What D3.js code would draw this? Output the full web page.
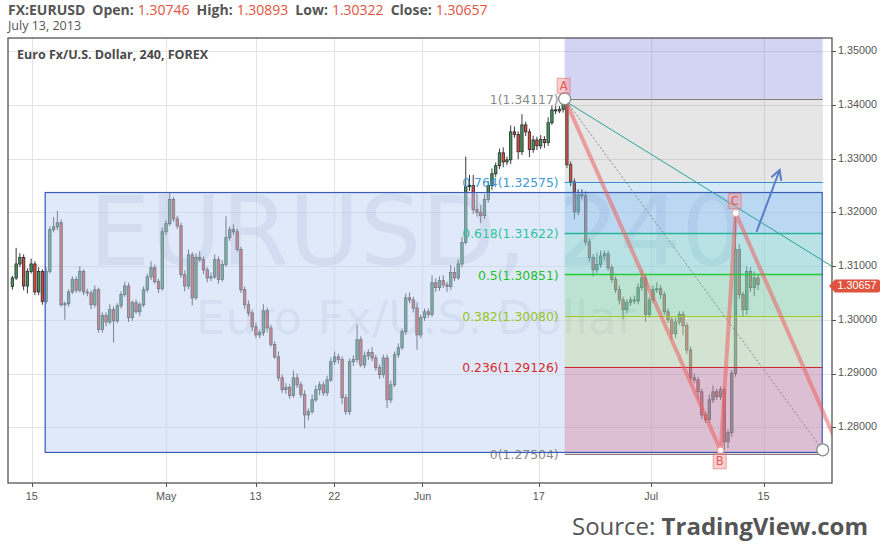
<!DOCTYPE html>
<html><head><meta charset="utf-8">
<script src="https://cdn.jsdelivr.net/npm/d3@7"></script>
<style>body{margin:0;background:#fff} svg{display:block}</style>
</head><body><svg id="c" width="883" height="554"></svg>
<script>
// ---------------- DATA ----------------
const symbol = "FX:EURUSD";
const headerDate = "July 13, 2013";
const chartTitle = "Euro Fx/U.S. Dollar, 240, FOREX";
const watermark1 = "EURUSD, 240";
const watermark2 = "Euro Fx/U.S. Dollar";
const ohlcLabels = ["Open:", "High:", "Low:", "Close:"];
const ohlcValues = ["1.30746", "1.30893", "1.30322", "1.30657"];
const lastPrice = 1.30657;

// bars: trading-day index of the first bar (0 = Apr 15), 3 bars per trading day
const startDay = -2;
const barsPerDay = 3;
const firstOpen = 1.3062;
const closes = [
 1.3078,1.3104,1.3116,1.3063,1.3090,1.3104,1.3052,1.3090,1.3034,1.3090,
 1.3168,1.3173,1.3181,1.3028,1.3030,1.3052,1.3075,1.3055,1.3090,1.3052,
 1.3050,1.3028,1.3056,1.2982,1.3008,1.2996,1.3019,1.2998,1.3026,1.3047,
 1.3063,1.3004,1.3032,1.3015,1.3028,1.3056,1.3080,1.3097,1.3071,1.3058,
 1.3164,1.3179,1.3224,1.3188,1.3175,1.3084,1.3063,1.3121,1.3041,1.3116,
 1.3112,1.3093,1.3078,1.3080,1.3112,1.3075,1.3103,1.3153,1.3168,1.3164,
 1.3131,1.3056,1.3028,1.3013,1.2987,1.2972,1.2976,1.3017,1.2985,1.2954,
 1.2931,1.2892,1.2870,1.2874,1.2859,1.2892,1.2879,1.2861,1.2823,1.2829,
 1.2851,1.2870,1.2879,1.2864,1.2888,1.2922,1.2931,1.2926,1.2855,1.2829,
 1.2922,1.2926,1.2963,1.2916,1.2933,1.2939,1.2929,1.2911,1.2898,1.2929,
 1.2851,1.2879,1.2935,1.2948,1.2978,1.3041,1.3037,1.3022,1.2972,1.3004,
 1.3015,1.3010,1.3069,1.3060,1.3073,1.3065,1.3062,1.3088,1.3078,1.3104,
 1.3144,1.3248,1.3250,1.3205,1.3200,1.3194,1.3224,1.3250,1.3272,1.3287,
 1.3311,1.3294,1.3298,1.3350,1.3345,1.3313,1.3363,1.3350,1.3317,1.3335,
 1.3324,1.3336,1.3330,1.3367,1.3391,1.3389,1.3392,1.3404,1.3289,1.3257,
 1.3201,1.3233,1.3231,1.3145,1.3116,1.3093,1.3103,1.3119,1.3123,1.3097,
 1.3075,1.3056,1.3037,1.3019,1.3032,1.3037,1.3035,1.3060,1.3078,1.3010,
 1.3037,1.3056,1.3058,1.3047,1.3015,1.3000,1.2974,1.2996,1.3010,1.2989,
 1.2944,1.2892,1.2888,1.2866,1.2823,1.2814,1.2851,1.2866,1.2857,1.2870,
 1.2773,1.2790,1.2900,1.3131,1.3047,1.3019,1.3090,1.3060,1.3078,1.30657
];
// wick lengths beyond the body, in pips
const wickUp = [
 4,30,8,6,6,10,5,8,4,8,   6,18,22,6,4,5,6,6,10,4,
 6,5,8,4,6,6,10,6,5,6,    8,6,4,6,5,6,6,12,6,5,
 8,6,14,5,6,6,8,10,5,8,   12,6,5,8,10,6,8,40,6,10,
 6,5,6,8,6,8,6,12,6,6,    6,10,6,8,6,14,8,6,8,6,
 10,8,6,6,8,8,10,6,6,6,   6,8,28,6,8,6,10,6,6,6,
 6,8,6,8,6,8,10,6,10,6,   6,6,14,8,8,10,6,14,10,8,
 10,56,20,20,30,14,10,8,10,6, 8,10,6,12,10,6,20,6,6,8,
 6,8,6,10,8,8,6,8,6,6,    6,10,10,8,6,6,22,10,6,6,
 6,6,8,6,6,6,8,8,14,6,    6,8,12,6,6,6,6,8,6,6,
 6,6,8,6,6,6,10,12,6,6,   4,6,6,68,10,6,10,8,12,8
];
const wickDown = [
 6,4,6,8,14,4,6,6,6,4,    4,5,6,4,28,6,4,5,4,6,
 6,8,5,6,6,8,4,40,4,5,    4,8,6,4,8,4,5,6,4,8,
 4,6,4,6,6,6,10,6,14,4,   4,8,8,6,4,8,4,4,6,6,
 4,6,8,6,8,6,6,6,8,4,     4,6,6,8,6,4,6,6,25,10,
 4,4,10,6,6,4,6,8,12,6,   6,8,6,4,6,8,6,6,8,6,
 15,6,4,6,4,6,6,8,28,6,   6,6,4,8,6,6,10,6,6,4,
 6,4,8,8,8,14,6,6,8,6,    6,10,6,8,6,14,6,8,14,6,
 8,6,10,6,4,6,4,6,6,8,    14,6,6,6,8,12,6,6,8,6,
 6,6,8,18,6,6,6,6,6,14,   6,6,6,8,6,6,10,8,6,18,
 8,6,6,14,8,6,6,6,6,6,    16,12,8,6,8,14,10,8,16,10
];

// axes
const priceTicks = [1.28, 1.29, 1.30, 1.31, 1.32, 1.33, 1.34, 1.35];
const dateTickDays = [-0.1, 11.85, 19.8, 26.8, 34.65, 45, 55, 65];
const dateTickLabels = ["15", "May", "13", "22", "Jun", "17", "Jul", "15"];

// fibonacci retracement (A -> lower-right anchor)
const fibRatios = ["1", "0.764", "0.618", "0.5", "0.382", "0.236", "0"];
const fibPrices = [1.34117, 1.32575, 1.31622, 1.30851, 1.30080, 1.29126, 1.27504];
const fibStartDay = 47.3;
const fibEndDay = 70.26;
const fibEndPrice = 1.2758;

// ABC pattern points (A, B, C, projected D)
const abcNames = ["A", "B", "C"];
const abcDays = [47.3, 61.18, 62.52, 71.2];
const abcPrices = [1.34117, 1.2757, 1.3199, 1.2785];

// rectangle (day range, price range)
const rectDays = [1.04, 70.17];
const rectPrices = [1.3238, 1.2754];

// trend line from A and arrow
const trendDays = [47.3, 71.06];
const trendPrices = [1.3408, 1.3100];
const arrowDays = [64.37, 66.43];
const arrowPrices = [1.3164, 1.3279];

// ---------------- STYLE ----------------
const upFill = "#3f9a5c", downFill = "#e2483a", candleStroke = "#2a2a2a", wickColor = "#3a3a3a";
const fibLineColors = ["#7f7f7f", "#3a8fc8", "#27b39b", "#22cc33", "#99cc22", "#cc2a2a", "#7f7f7f"];
const fibTextColors = ["#8a8a8a", "#3c98d6", "#2ec4a0", "#22c02a", "#96c41e", "#d42c2c", "#8a8a8a"];
const fibZoneFills = ["rgba(128,128,128,0.2)", "rgba(40,150,210,0.2)", "rgba(40,200,150,0.22)",
  "rgba(60,205,70,0.22)", "rgba(160,205,50,0.2)", "rgba(205,40,70,0.22)"];
const fibTopFill = "rgba(80,80,210,0.25)";

// ---------------- DRAW ----------------
const W = 883, H = 554;
const plot = {l: 8, r: 832, t: 38, b: 483};
const svg = d3.select("#c");
const x = d3.scaleLinear().domain([0, 65]).range([33.0, 763.6]);
const y = d3.scaleLinear().domain([1.27, 1.35]).range([480.93, 51.33]);

svg.append("rect").attr("width", W).attr("height", H).attr("fill", "#fff");
svg.append("defs").append("clipPath").attr("id", "clip")
  .append("rect").attr("x", plot.l).attr("y", plot.t)
  .attr("width", plot.r - plot.l).attr("height", plot.b - plot.t);

// grid
const grid = svg.append("g").attr("stroke", "#e4e4e4").attr("stroke-width", 1);
priceTicks.forEach(p => grid.append("line").attr("x1", plot.l).attr("x2", plot.r)
  .attr("y1", Math.round(y(p)) + 0.5).attr("y2", Math.round(y(p)) + 0.5));
dateTickDays.forEach(d => grid.append("line").attr("y1", plot.t).attr("y2", plot.b)
  .attr("x1", Math.round(x(d)) + 0.5).attr("x2", Math.round(x(d)) + 0.5));

const g = svg.append("g").attr("clip-path", "url(#clip)");

// watermark
g.append("text").attr("x", 416).attr("y", 265).attr("text-anchor", "middle")
  .attr("font-family", "DejaVu Sans").attr("font-size", 97)
  .attr("fill", "rgba(120,135,165,0.18)").text(watermark1);
g.append("text").attr("x", 416).attr("y", 334).attr("text-anchor", "middle")
  .attr("font-family", "DejaVu Sans").attr("font-size", 47)
  .attr("fill", "rgba(120,135,165,0.18)").text(watermark2);

// candles
const bars = closes.map((c, i) => {
  const o = i ? closes[i - 1] : firstOpen;
  return {d: startDay + (i + 0.5) / barsPerDay, o, c,
    hi: Math.max(o, c) + wickUp[i] * 1e-4, lo: Math.min(o, c) - wickDown[i] * 1e-4};
});
const cg = g.append("g");
cg.selectAll("line.w").data(bars).join("line").attr("class", "w")
  .attr("x1", b => x(b.d)).attr("x2", b => x(b.d))
  .attr("y1", b => y(b.hi)).attr("y2", b => y(b.lo))
  .attr("stroke", wickColor).attr("stroke-width", 1);
cg.selectAll("rect.b").data(bars).join("rect").attr("class", "b")
  .attr("x", b => x(b.d) - 1.2).attr("width", 2.4)
  .attr("y", b => y(Math.max(b.o, b.c)))
  .attr("height", b => Math.max(1, y(Math.min(b.o, b.c)) - y(Math.max(b.o, b.c))))
  .attr("fill", b => b.c >= b.o ? upFill : downFill)
  .attr("stroke", candleStroke).attr("stroke-width", 0.8);

// blue rectangle fill
g.append("rect").attr("x", x(rectDays[0])).attr("y", y(rectPrices[0]))
  .attr("width", x(rectDays[1]) - x(rectDays[0]))
  .attr("height", y(rectPrices[1]) - y(rectPrices[0]))
  .attr("fill", "rgba(190,208,245,0.48)");

// fib zones
const fx0 = x(fibStartDay), fx1 = x(fibEndDay);
g.append("rect").attr("x", fx0).attr("width", fx1 - fx0)
  .attr("y", plot.t - 5).attr("height", y(fibPrices[0]) - plot.t + 5).attr("fill", fibTopFill);
for (let k = 0; k < fibPrices.length - 1; k++) {
  g.append("rect").attr("x", fx0).attr("width", fx1 - fx0)
    .attr("y", y(fibPrices[k])).attr("height", y(fibPrices[k + 1]) - y(fibPrices[k]))
    .attr("fill", fibZoneFills[k]);
}
fibPrices.forEach((p, k) => {
  g.append("line").attr("x1", fx0).attr("x2", fx1)
    .attr("y1", Math.round(y(p)) + 0.5).attr("y2", Math.round(y(p)) + 0.5)
    .attr("stroke", fibLineColors[k]).attr("stroke-width", k === 2 || k === 3 ? 1.3 : 1.1);
  g.append("text").attr("x", fx0 - 6).attr("y", y(p) + 2).attr("text-anchor", "end")
    .attr("dominant-baseline", "middle")
    .attr("font-family", "DejaVu Sans").attr("font-size", 12.4)
    .attr("fill", fibTextColors[k]).text(fibRatios[k] + "(" + p.toFixed(5) + ")");
});

// rectangle border
g.append("rect").attr("x", x(rectDays[0]) + 0.5).attr("y", y(rectPrices[0]) + 0.5)
  .attr("width", x(rectDays[1]) - x(rectDays[0]))
  .attr("height", y(rectPrices[1]) - y(rectPrices[0]))
  .attr("fill", "none").attr("stroke", "#3a5cb8").attr("stroke-width", 1.2);

// trend line (teal)
g.append("line").attr("x1", x(trendDays[0])).attr("y1", y(trendPrices[0]))
  .attr("x2", x(trendDays[1])).attr("y2", y(trendPrices[1]))
  .attr("stroke", "#2aa198").attr("stroke-width", 1);
// fib diagonal (dashed)
g.append("line").attr("x1", x(fibStartDay)).attr("y1", y(fibPrices[0]))
  .attr("x2", x(fibEndDay)).attr("y2", y(fibEndPrice))
  .attr("stroke", "#8a8a8a").attr("stroke-width", 1).attr("stroke-dasharray", "2,2");

// ABC legs
const abcPts = abcDays.map((d, i) => [x(d), y(abcPrices[i])]);
g.append("path").attr("d", d3.line()(abcPts)).attr("fill", "none")
  .attr("stroke", "rgba(236,96,96,0.55)").attr("stroke-width", 4)
  .attr("stroke-linejoin", "miter");

// arrow
const a0 = [x(arrowDays[0]), y(arrowPrices[0])], a1 = [x(arrowDays[1]), y(arrowPrices[1])];
const ang = Math.atan2(a1[1] - a0[1], a1[0] - a0[0]);
const hl = 11, ha = 0.5;
g.append("path").attr("d", d3.line()([a0, a1])).attr("stroke", "#5a7cc8").attr("stroke-width", 2).attr("fill", "none");
g.append("path").attr("d", d3.line()([
  [a1[0] - hl * Math.cos(ang - ha), a1[1] - hl * Math.sin(ang - ha)], a1,
  [a1[0] - hl * Math.cos(ang + ha), a1[1] - hl * Math.sin(ang + ha)]]))
  .attr("stroke", "#5a7cc8").attr("stroke-width", 2).attr("fill", "none")
  .attr("stroke-linejoin", "miter");

// markers
function circle(cx, cy, r, stroke) {
  g.append("circle").attr("cx", cx).attr("cy", cy).attr("r", r)
    .attr("fill", "#fff").attr("stroke", stroke).attr("stroke-width", 1.3);
}
circle(abcPts[0][0], abcPts[0][1], 6, "#8a8a8a");
circle(x(fibEndDay), y(fibEndPrice), 6, "#8a8a8a");
circle(abcPts[1][0], abcPts[1][1], 3.2, "#f0a0a0");
circle(abcPts[2][0], abcPts[2][1], 3.5, "#d8b0b8");
const boxOff = [-13, 11, -12];
abcNames.forEach((n, i) => {
  const bx = abcPts[i][0] - 1, by = abcPts[i][1] + boxOff[i];
  g.append("rect").attr("x", bx - 6.5).attr("y", by - 7.5).attr("width", 13).attr("height", 15)
    .attr("fill", "rgba(245,150,150,0.45)").attr("stroke", "rgba(225,110,110,0.6)").attr("stroke-width", 1);
  g.append("text").attr("x", bx).attr("y", by + 0.5).attr("text-anchor", "middle")
    .attr("dominant-baseline", "middle").attr("font-family", "DejaVu Sans")
    .attr("font-size", 11.5).attr("fill", "#e05858").text(n);
});

// frame
svg.append("rect").attr("x", plot.l).attr("y", plot.t).attr("width", plot.r - plot.l)
  .attr("height", plot.b - plot.t).attr("fill", "none").attr("stroke", "#555").attr("stroke-width", 1.3);

// right axis
const ra = svg.append("g");
priceTicks.forEach(p => {
  ra.append("line").attr("x1", plot.r).attr("x2", plot.r + 4)
    .attr("y1", Math.round(y(p)) + 0.5).attr("y2", Math.round(y(p)) + 0.5).attr("stroke", "#555");
  ra.append("text").attr("x", plot.r + 6).attr("y", y(p)).attr("dominant-baseline", "middle")
    .attr("font-family", "Liberation Sans, Arial").attr("font-size", 10.8).attr("fill", "#555")
    .text(p.toFixed(5));
});
// bottom axis
dateTickDays.forEach((d, i) => {
  ra.append("line").attr("x1", Math.round(x(d)) + 0.5).attr("x2", Math.round(x(d)) + 0.5)
    .attr("y1", plot.b).attr("y2", plot.b + 4).attr("stroke", "#555");
  ra.append("text").attr("x", x(d)).attr("y", 497).attr("text-anchor", "middle")
    .attr("dominant-baseline", "middle").attr("font-family", "Liberation Sans, Arial")
    .attr("font-size", 10.8).attr("fill", "#555").text(dateTickLabels[i]);
});

// last price tag
const ty = y(lastPrice) + 1.5;
svg.append("path").attr("d", `M${plot.r - 3},${ty} L${plot.r + 3},${ty - 6.5} H878 Q880,${ty - 6.5} 880,${ty - 4.5} V${ty + 4.5} Q880,${ty + 6.5} 878,${ty + 6.5} H${plot.r + 3} Z`)
  .attr("fill", "#e0533f");
svg.append("text").attr("x", 857).attr("y", ty + 0.5).attr("text-anchor", "middle")
  .attr("dominant-baseline", "middle").attr("font-family", "Liberation Sans, Arial")
  .attr("font-size", 10.8).attr("fill", "#fff").text(lastPrice.toFixed(5));

// header
const hdr = svg.append("text").attr("x", 8).attr("y", 14.5)
  .attr("font-family", "Open Sans").attr("font-size", 14).attr("fill", "#555");
hdr.append("tspan").attr("font-weight", "bold").text(symbol);
ohlcLabels.forEach((l, i) => {
  hdr.append("tspan").attr("font-weight", "bold").attr("dx", 7).text(l);
  hdr.append("tspan").attr("dx", 4).attr("fill", "#e0533f").text(ohlcValues[i]);
});
svg.append("text").attr("x", 8).attr("y", 30).attr("font-family", "Open Sans")
  .attr("font-size", 12.5).attr("fill", "#555").text(headerDate);
svg.append("text").attr("x", 17).attr("y", 59).attr("font-family", "Open Sans")
  .attr("font-size", 12.5).attr("font-weight", "bold").attr("fill", "#4a4a4a").text(chartTitle);

// source
const src = svg.append("text").attr("x", 868).attr("y", 535).attr("text-anchor", "end")
  .attr("font-family", "Open Sans").attr("font-size", 24).attr("fill", "#555");
src.append("tspan").text("Source: ");
src.append("tspan").attr("font-weight", "bold").text("TradingView.com");
</script></body></html>
